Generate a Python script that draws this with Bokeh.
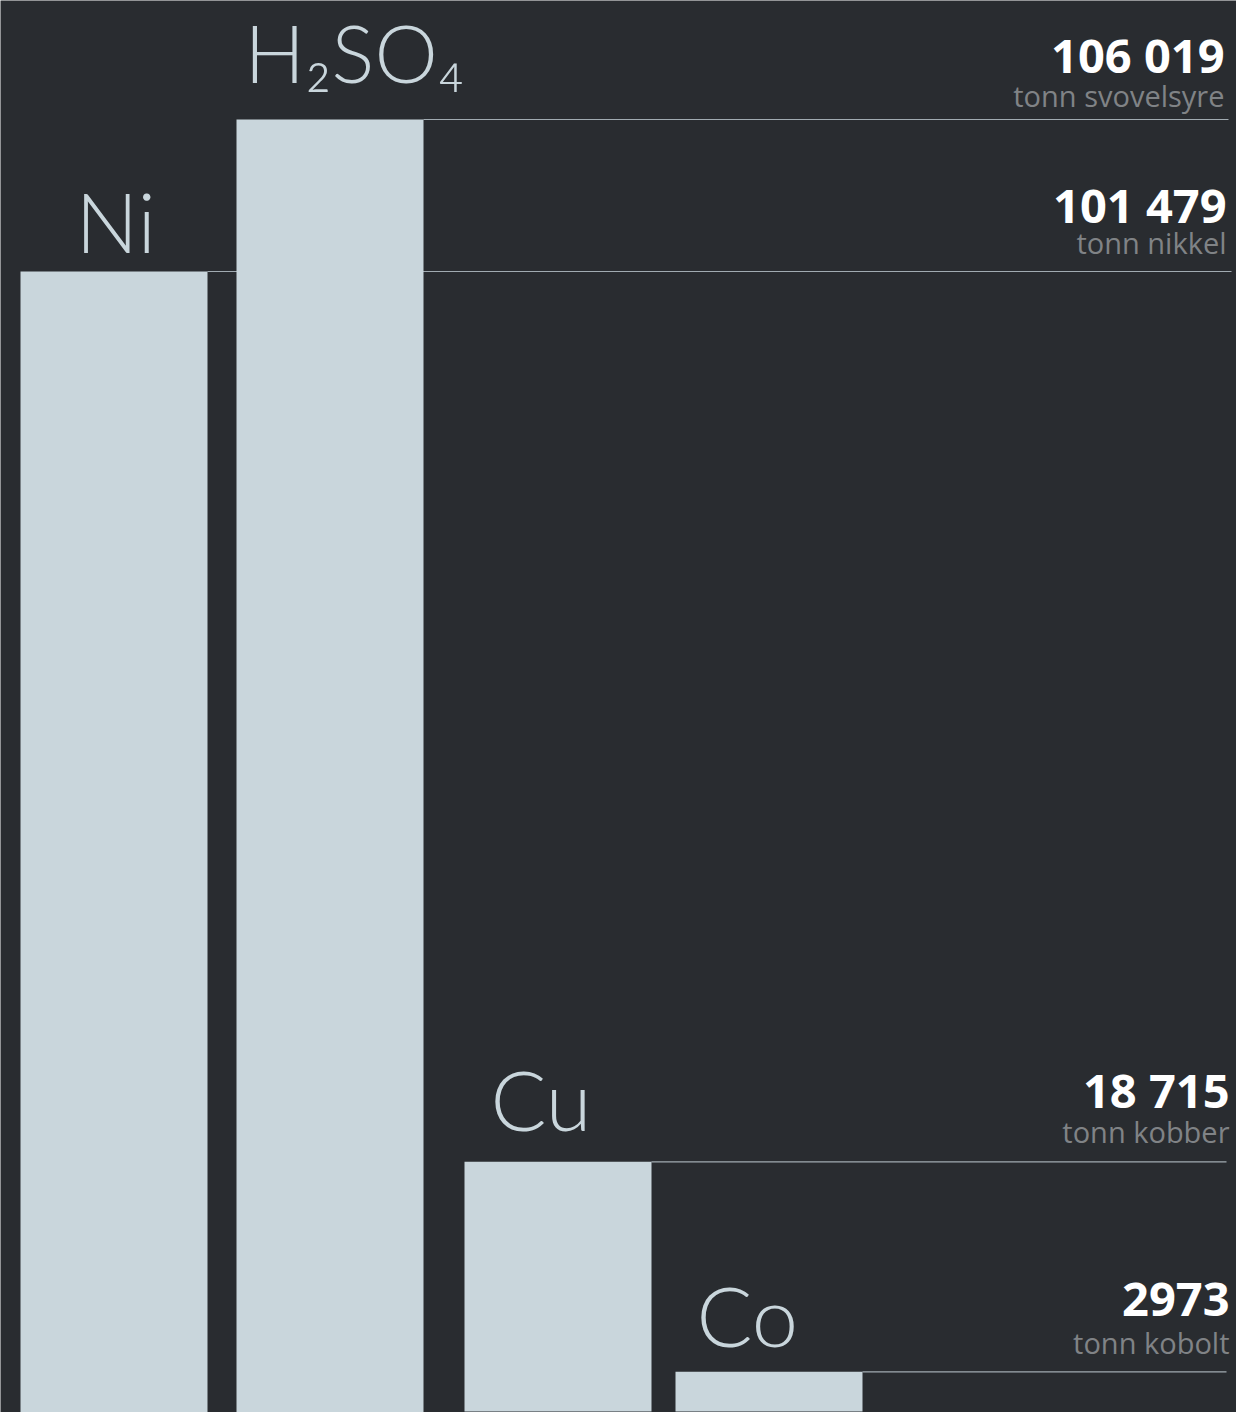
from bokeh.plotting import figure
from bokeh.models import Range1d, ColumnDataSource
from bokeh.core.properties import value
from bokeh.embed import file_html
from bokeh.resources import INLINE

# ---------------- data ----------------
symbols = ["Ni", "H₂SO₄", "Cu", "Co"]
tonnes = [101479, 106019, 18715, 2973]
value_labels = ["101 479", "106 019", "18 715", "2973"]
unit_labels = ["tonn nikkel", "tonn svovelsyre", "tonn kobber", "tonn kobolt"]

# ---------------- layout / style ----------------
BG = "#292c30"
BAR = "#c9d6dc"
W, H = 1236, 1412
OX, OY = 0, 0

# two linear scales (px per tonne): the two big bars are drawn on a stretched scale
K_LOW, ZERO_LOW = 0.013340, 1411.0
K_UP, ZERO_UP = 0.033480, 3668.5
scale_name = ["up", "up", "default", "default"]

bar_left = [20, 236, 464, 675]
bar_w = 187
line_end = [1231, 1228, 1226, 1226]
label_x = [75, 244, 490, 696]
label_dy = [-20, -38, -32, -26]
sym_size = [83, 80, 83, 83]
num_right = [1226, 1224, 1229, 1229]
num_dy = [-49, -47, -54, -55]
unit_dy = [-18, -13, -20, -19]

NUM_SIZE, UNIT_SIZE = 47, 29
BASE_FIX = 0.37   # em; compensates where the renderer puts the alphabetic baseline

p = figure(width=W, height=H, output_backend="svg", toolbar_location=None,
           x_range=Range1d(OX, OX + W),
           y_range=Range1d((ZERO_LOW - (OY + H)) / K_LOW, (ZERO_LOW - OY) / K_LOW),
           min_border=0, background_fill_color=BG, border_fill_color=BG)
p.extra_y_ranges = {"up": Range1d((ZERO_UP - (OY + H)) / K_UP, (ZERO_UP - OY) / K_UP)}
p.axis.visible = False
p.grid.visible = False
p.outline_line_color = None

for i in range(len(symbols)):
    rn = scale_name[i]
    src = ColumnDataSource(dict(
        x=[bar_left[i] + bar_w / 2], top=[tonnes[i]],
        x0=[bar_left[i] + bar_w], x1=[line_end[i]],
    ))
    p.segment(x0="x0", x1="x1", y0="top", y1="top", source=src, y_range_name=rn,
              line_color=BAR, line_alpha=0.75, line_width=1.2)

for i in range(len(symbols)):
    rn = scale_name[i]
    src = ColumnDataSource(dict(x=[bar_left[i] + bar_w / 2], top=[tonnes[i]]))
    p.vbar(x="x", top="top", bottom=0, width=bar_w, source=src, y_range_name=rn,
           fill_color=BAR, line_color=None)

for i in range(len(symbols)):
    rn = scale_name[i]
    src = ColumnDataSource(dict(lx=[label_x[i]], rx=[num_right[i]], y=[tonnes[i]],
                                sym=[symbols[i]], num=[value_labels[i]], unit=[unit_labels[i]]))
    p.text(x="lx", y="y", text="sym", source=src, y_range_name=rn,
           y_offset=label_dy[i] - BASE_FIX * sym_size[i],
           text_font=value("Lato Light"), text_font_size=f"{sym_size[i]}px", text_color=BAR,
           text_align="left", text_baseline="alphabetic")
    p.text(x="rx", y="y", text="num", source=src, y_range_name=rn,
           y_offset=num_dy[i] - BASE_FIX * NUM_SIZE,
           text_font=value("Open Sans"), text_font_style="bold", text_font_size=f"{NUM_SIZE}px",
           text_color="#ffffff", text_align="right", text_baseline="alphabetic")
    p.text(x="rx", y="y", text="unit", source=src, y_range_name=rn,
           y_offset=unit_dy[i] - BASE_FIX * UNIT_SIZE,
           text_font=value("Open Sans"), text_font_size=f"{UNIT_SIZE}px",
           text_color="#808386", text_align="right", text_baseline="alphabetic")

open("out.html", "w").write(file_html(p, INLINE))
